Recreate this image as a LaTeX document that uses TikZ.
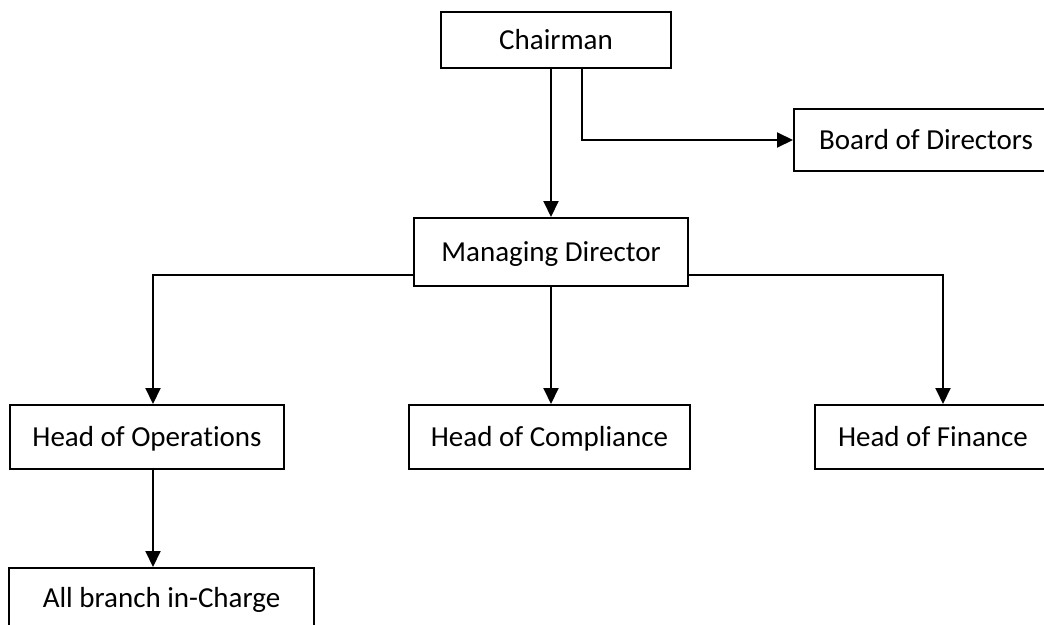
\documentclass[tikz,border=0pt]{standalone}
\usepackage{fontspec}
\setmainfont{Carlito}[Ligatures=NoCommon]
\usetikzlibrary{arrows.meta}

\begin{document}
\begin{tikzpicture}[x=1pt, y=-1pt, line width=2pt,
    box/.style = {draw, rectangle, inner sep=0pt, text height=19pt, text depth=0pt,
                  font=\fontsize{29}{35}\selectfont},
    arr/.style = {-{Triangle[width=15pt,length=16pt]}}]
  \useasboundingbox (0,0) rectangle (1044,624);
  \clip (0,0) rectangle (1044,624);

  \node[box, minimum width=230pt, minimum height=56pt] (chair) at (556,40) {Chairman};
  \node[box, minimum width=264pt, minimum height=62pt] (board) at (926,140) {Board of Directors};
  \node[box, minimum width=274pt, minimum height=68pt] (md) at (551,252) {Managing Director};
  \node[box, minimum width=274pt, minimum height=64pt] (ops) at (147,437) {Head of Operations};
  \node[box, minimum width=281pt, minimum height=64pt] (comp) at (549.5,437) {Head of Compliance};
  \node[box, minimum width=236pt, minimum height=64pt] (fin) at (933,437) {Head of Finance};
  \node[box, minimum width=305pt, minimum height=60pt] (branch) at (161.5,598) {All branch in-Charge};

  \draw[arr] (chair.south -| md.north) -- (md.north);
  \draw[arr] ([xshift=26pt]chair.south) |- (board.west); % side line to the board
  \draw[arr] ([yshift=-23pt]md.west) -| ([xshift=6pt]ops.north);
  \draw[arr] (md.south) -- (md.south |- comp.north);
  \draw[arr] ([yshift=-23pt]md.east) -| ([xshift=10pt]fin.north);
  \draw[arr] ([xshift=6pt]ops.south) -- ([xshift=6pt]ops.south |- branch.north);
\end{tikzpicture}
\end{document}
